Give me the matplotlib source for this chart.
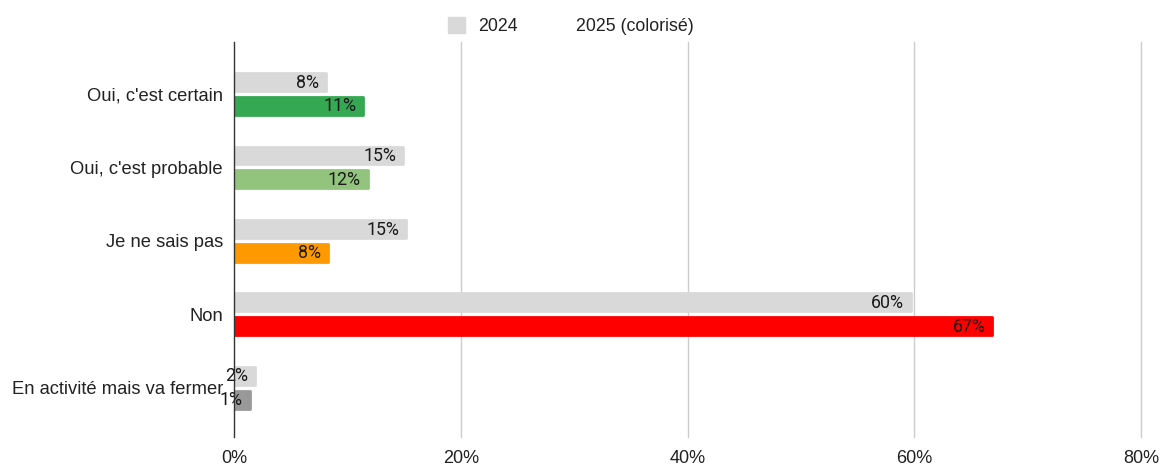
import matplotlib
matplotlib.use("Agg")
import matplotlib.pyplot as plt
from matplotlib.patches import Patch
import numpy as np

categories = ["Oui, c'est certain", "Oui, c'est probable", "Je ne sais pas", "Non", "En activit\u00e9 mais va fermer"]
values_2024 = [8.1, 14.9, 15.2, 59.7, 1.85]
values_2025 = [11.4, 11.8, 8.3, 66.9, 1.4]
colors_2025 = ["#34a853", "#93c47d", "#ff9900", "#ff0000", "#999999"]
color_2024 = "#d9d9d9"
xticks = [0, 20, 40, 60, 80]
xticklabels = ["0%", "20%", "40%", "60%", "80%"]
legend_labels = ["2024", "2025 (coloris\u00e9)"]

W, H = 1161, 465
fig = plt.figure(figsize=(W / 100, H / 100), dpi=100)
ax = fig.add_axes([234 / W, 1 - 437 / H, (1141 - 234) / W, (437 - 42) / H])

y = np.arange(len(categories))
bh = 0.26
off = 0.163
for yi, v, c in zip(y - off, values_2024, [color_2024] * len(y)):
    ax.barh(yi, v, height=bh - 0.02, color=c, edgecolor=c, linewidth=2, joinstyle="round", zorder=3)
for yi, v, c in zip(y + off, values_2025, colors_2025):
    ax.barh(yi, v, height=bh - 0.02, color=c, edgecolor=c, linewidth=2, joinstyle="round", zorder=3)

lab_font = dict(family="Roboto", fontsize=12.8, color="#1a1a1a")
for yi, v in zip(y - off, values_2024):
    ax.annotate(f"{v:.0f}%", (v, yi), xytext=(-5, -0.5), textcoords="offset points",
                ha="right", va="center", zorder=4, **lab_font)
for yi, v in zip(y + off, values_2025):
    ax.annotate(f"{v:.0f}%", (v, yi), xytext=(-5, -0.5), textcoords="offset points",
                ha="right", va="center", zorder=4, **lab_font)

ax.set_xlim(0, 80)
ax.set_ylim(len(categories) - 1 + 0.67, -0.705)
ax.set_xticks(xticks)
ax.set_xticklabels(xticklabels, fontsize=13, family="Liberation Sans", color="#222222")
ax.set_yticks(y)
ax.set_yticklabels(categories, fontsize=13.2, family="Liberation Sans", color="#222222")
ax.tick_params(axis="both", length=0)
ax.tick_params(axis="y", pad=8)
ax.tick_params(axis="x", pad=9)
ax.grid(axis="x", color="#cccccc", linewidth=1, zorder=0)
for gl in ax.xaxis.get_gridlines():
    gl.set_clip_on(False)
for s in ["top", "right", "bottom"]:
    ax.spines[s].set_visible(False)
ax.spines["left"].set_color("#333333")
ax.spines["left"].set_linewidth(1)
ax.spines["left"].set_zorder(5)
ax.xaxis.get_gridlines()[0].set_visible(False)

handles = [Patch(facecolor=color_2024, edgecolor=color_2024), Patch(facecolor="white", edgecolor="white")]
fig.legend(handles, legend_labels, loc="center", bbox_to_anchor=(0.4915, 1 - 26 / H), ncol=2,
           frameon=False, prop=dict(family="Liberation Sans", size=12.8), handlelength=0.95,
           handleheight=1.0, columnspacing=1.55, handletextpad=0.75, labelcolor="#222222")

fig.savefig("out.png", dpi=100)
